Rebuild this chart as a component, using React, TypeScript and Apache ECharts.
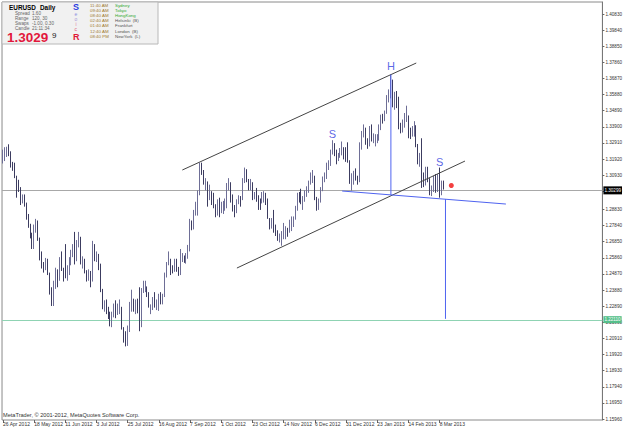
import React, { useEffect, useRef } from "react";
import * as echarts from "echarts";

// ---------- DATA ----------
const firstOpen = 1.319;
const closes = [
  1.3232, 1.3238, 1.324, 1.3236, 1.3158, 1.315, 1.3083, 1.3048, 1.301, 1.2945, 1.2955, 1.2915, 1.2832, 1.2782, 1.272, 1.2665,
  1.278, 1.278, 1.2705, 1.258, 1.253, 1.2515, 1.256, 1.249, 1.2375, 1.2365, 1.242, 1.25, 1.245, 1.2565, 1.2525, 1.2505,
  1.248, 1.25, 1.2565, 1.2625, 1.264, 1.258, 1.268, 1.27, 1.256, 1.2565, 1.25, 1.247, 1.249, 1.244, 1.2665, 1.2585,
  1.2605, 1.252, 1.2385, 1.229, 1.229, 1.225, 1.2245, 1.22, 1.2245, 1.2285, 1.2275, 1.2275, 1.2285, 1.2155, 1.2115, 1.2065,
  1.216, 1.2285, 1.2315, 1.227, 1.23, 1.2285, 1.217, 1.2385, 1.24, 1.2405, 1.237, 1.2285, 1.229, 1.2335, 1.229, 1.229,
  1.234, 1.2335, 1.2355, 1.249, 1.255, 1.256, 1.2515, 1.251, 1.2565, 1.2515, 1.2495, 1.2575, 1.2585, 1.2575, 1.2605, 1.2635,
  1.2815, 1.2765, 1.286, 1.2895, 1.2985, 1.313, 1.3115, 1.305, 1.305, 1.2975, 1.298, 1.2935, 1.2905, 1.2855, 1.2925, 1.286,
  1.288, 1.289, 1.29, 1.3035, 1.3035, 1.2945, 1.288, 1.287, 1.2925, 1.295, 1.2945, 1.3055, 1.312, 1.306, 1.3025, 1.305,
  1.296, 1.2975, 1.2955, 1.294, 1.2935, 1.296, 1.296, 1.2945, 1.283, 1.2795, 1.2815, 1.2775, 1.2745, 1.271, 1.271, 1.2715,
  1.274, 1.275, 1.274, 1.28, 1.2815, 1.2825, 1.2885, 1.2975, 1.297, 1.2945, 1.2945, 1.298, 1.2985, 1.305, 1.307, 1.3075,
  1.295, 1.2925, 1.2935, 1.3005, 1.307, 1.308, 1.316, 1.3165, 1.324, 1.3275, 1.324, 1.319, 1.3215, 1.3225, 1.3235, 1.3215,
  1.319, 1.3185, 1.305, 1.3065, 1.3115, 1.3075, 1.3065, 1.3275, 1.3345, 1.3375, 1.3305, 1.3285, 1.339, 1.3315, 1.3315, 1.332,
  1.332, 1.3385, 1.3455, 1.3445, 1.3485, 1.357, 1.358, 1.364, 1.3525, 1.359, 1.3525, 1.34, 1.3365, 1.3405, 1.345, 1.345,
  1.3365, 1.336, 1.337, 1.3395, 1.328, 1.319, 1.319, 1.306, 1.3055, 1.3125, 1.306, 1.302, 1.302, 1.308, 1.3, 1.3085,
  1.3, 1.3035, 1.303,
];
const highs = [
  1.325, 1.3265, 1.3268, 1.3283, 1.324, 1.3175, 1.317, 1.309, 1.3065, 1.302, 1.2975, 1.2975, 1.2925, 1.2855, 1.2795, 1.274,
  1.279, 1.2825, 1.2815, 1.271, 1.2625, 1.256, 1.2585, 1.258, 1.2495, 1.2405, 1.2445, 1.2525, 1.2515, 1.259, 1.2625, 1.2525,
  1.267, 1.254, 1.259, 1.2635, 1.267, 1.2745, 1.2695, 1.2745, 1.2715, 1.2595, 1.258, 1.251, 1.2515, 1.2505, 1.269, 1.267,
  1.2625, 1.261, 1.255, 1.2395, 1.2325, 1.233, 1.2285, 1.2255, 1.2255, 1.2305, 1.2325, 1.2305, 1.233, 1.2285, 1.216, 1.2135,
  1.217, 1.2315, 1.239, 1.2335, 1.233, 1.2335, 1.2405, 1.24, 1.2445, 1.2445, 1.241, 1.2375, 1.23, 1.2345, 1.2375, 1.233,
  1.2365, 1.2375, 1.2365, 1.2495, 1.256, 1.2625, 1.258, 1.254, 1.258, 1.258, 1.253, 1.264, 1.2615, 1.26, 1.2615, 1.2665,
  1.2825, 1.2815, 1.288, 1.293, 1.3, 1.317, 1.317, 1.3125, 1.3075, 1.3055, 1.3035, 1.2995, 1.2985, 1.2915, 1.2945, 1.2955,
  1.293, 1.2935, 1.295, 1.3045, 1.3075, 1.305, 1.2975, 1.291, 1.2945, 1.297, 1.2965, 1.3075, 1.314, 1.313, 1.307, 1.307,
  1.305, 1.299, 1.3015, 1.297, 1.295, 1.299, 1.2995, 1.2985, 1.295, 1.283, 1.283, 1.288, 1.279, 1.2755, 1.2735, 1.275,
  1.28, 1.278, 1.277, 1.282, 1.284, 1.284, 1.2905, 1.2985, 1.299, 1.301, 1.2965, 1.3, 1.3025, 1.306, 1.311, 1.3125,
  1.309, 1.296, 1.295, 1.302, 1.3085, 1.311, 1.317, 1.3185, 1.325, 1.3308, 1.329, 1.325, 1.323, 1.326, 1.33, 1.3265,
  1.3265, 1.3295, 1.3185, 1.3105, 1.312, 1.3135, 1.309, 1.3295, 1.3365, 1.3405, 1.3385, 1.332, 1.3395, 1.3405, 1.335, 1.3345,
  1.3345, 1.3405, 1.3465, 1.347, 1.349, 1.3585, 1.362, 1.3711, 1.368, 1.3605, 1.361, 1.3575, 1.3415, 1.3435, 1.3475, 1.352,
  1.346, 1.3385, 1.3395, 1.3425, 1.34, 1.3285, 1.323, 1.332, 1.311, 1.3145, 1.3145, 1.3075, 1.303, 1.309, 1.31, 1.31,
  1.314, 1.306, 1.306,
];
const lows = [
  1.3165, 1.318, 1.3205, 1.321, 1.314, 1.312, 1.3075, 1.2955, 1.299, 1.291, 1.292, 1.29, 1.282, 1.277, 1.2705, 1.264,
  1.264, 1.274, 1.269, 1.257, 1.252, 1.2495, 1.251, 1.248, 1.236, 1.229, 1.229, 1.2395, 1.2405, 1.2445, 1.2505, 1.244,
  1.246, 1.2445, 1.248, 1.254, 1.259, 1.2545, 1.2565, 1.265, 1.2545, 1.252, 1.249, 1.244, 1.2445, 1.2405, 1.244, 1.2565,
  1.256, 1.251, 1.2375, 1.227, 1.2255, 1.224, 1.221, 1.2165, 1.216, 1.222, 1.2215, 1.2235, 1.224, 1.2145, 1.2065, 1.2042,
  1.2045, 1.213, 1.2255, 1.2255, 1.224, 1.2245, 1.2135, 1.216, 1.237, 1.2375, 1.2345, 1.228, 1.224, 1.2265, 1.228, 1.2265,
  1.226, 1.23, 1.23, 1.2345, 1.2465, 1.254, 1.248, 1.249, 1.25, 1.25, 1.2475, 1.248, 1.256, 1.2555, 1.255, 1.258,
  1.2625, 1.2755, 1.276, 1.2845, 1.2845, 1.297, 1.3095, 1.3035, 1.3, 1.29, 1.294, 1.291, 1.289, 1.2835, 1.2845, 1.2835,
  1.286, 1.2855, 1.2875, 1.289, 1.3, 1.2925, 1.287, 1.2835, 1.286, 1.2915, 1.29, 1.294, 1.3045, 1.305, 1.3, 1.3,
  1.294, 1.2945, 1.293, 1.288, 1.288, 1.292, 1.2925, 1.291, 1.2825, 1.276, 1.2765, 1.274, 1.272, 1.269, 1.268, 1.266,
  1.27, 1.27, 1.2715, 1.274, 1.275, 1.2775, 1.282, 1.2875, 1.2925, 1.2915, 1.288, 1.293, 1.296, 1.2985, 1.3035, 1.3045,
  1.294, 1.2875, 1.288, 1.2925, 1.2995, 1.305, 1.307, 1.3125, 1.315, 1.322, 1.321, 1.316, 1.318, 1.32, 1.3215, 1.319,
  1.3175, 1.317, 1.304, 1.2998, 1.3035, 1.306, 1.3035, 1.305, 1.325, 1.3325, 1.328, 1.3255, 1.327, 1.33, 1.329, 1.327,
  1.329, 1.3305, 1.337, 1.341, 1.3425, 1.347, 1.354, 1.3565, 1.351, 1.3495, 1.3505, 1.3375, 1.335, 1.3355, 1.3385, 1.342,
  1.332, 1.3315, 1.333, 1.333, 1.3265, 1.316, 1.3145, 1.3015, 1.302, 1.303, 1.305, 1.297, 1.2965, 1.299, 1.2985, 1.299,
  1.2955, 1.297, 1.3005,
];
const priceTicks = [
  1.4083, 1.3984, 1.3885, 1.3786, 1.3687, 1.3588, 1.3489, 1.339, 1.3291, 1.3192, 1.3093, 1.2994, 1.2883,
  1.2784, 1.2685, 1.2586, 1.2487, 1.2388, 1.2289, 1.219, 1.2091, 1.1992, 1.1893, 1.1794, 1.1695, 1.1596,
];
const bidPrice = 1.30299;
const targetPrice = 1.2211;
const upperChannel = [[92, 1.3125], [212, 1.3782]];
const lowerChannel = [[120, 1.2523], [237, 1.318]];
const neckline = [[174, 1.2996], [258, 1.2916]];
const headDrop = [[199, 1.3711], [199, 1.2972]];
const targetDrop = [[227, 1.2946], [227, targetPrice]];
const patternLabels = [
  { name: "H", at: [199, 1.3764] },
  { name: "S", at: [169, 1.3346] },
  { name: "S", at: [224, 1.3174] },
];
const lastMark = [[230, bidPrice]];

const MONTHS = ["Jan", "Feb", "Mar", "Apr", "May", "Jun", "Jul", "Aug", "Sep", "Oct", "Nov", "Dec"];
const HOLIDAYS = ["2012-12-25", "2013-01-01"];
const SLOT_COUNT = 308;
const LABEL_EVERY = 16;

function buildDates(): string[] {
  const out: string[] = [];
  const d = new Date(Date.UTC(2012, 3, 26));
  while (out.length < SLOT_COUNT) {
    const wd = d.getUTCDay();
    const iso = d.toISOString().slice(0, 10);
    if (wd !== 0 && wd !== 6 && !HOLIDAYS.includes(iso)) {
      out.push(`${d.getUTCDate()} ${MONTHS[d.getUTCMonth()]} ${d.getUTCFullYear()}`);
    }
    d.setUTCDate(d.getUTCDate() + 1);
  }
  return out;
}

const FONT = "Liberation Sans";

export default function App() {
  const ref = useRef<HTMLDivElement>(null);
  useEffect(() => {
    document.body.style.margin = "0";
    const chart = echarts.init(ref.current!, undefined, { renderer: "svg" });
    const dates = buildDates();
    const ohlc = closes.map((c, i) => [i === 0 ? firstOpen : closes[i - 1], c, lows[i], highs[i]]);
    const lastIdx = closes.length - 1;
    const showLabel = (i: number) => i % LABEL_EVERY === 0 && i <= lastIdx;

    const lineSeries = (data: number[][], color: string) => ({
      type: "line",
      data,
      symbol: "none",
      silent: true,
      z: 4,
      itemStyle: { color },
      lineStyle: { color, width: 1 },
    });

    const smallText = (text: string, x: number, y: number, fill: string, size = 4.6, weight = "normal") => ({
      type: "text",
      z: 20,
      style: { text, x, y, fill, fontSize: size, fontFamily: FONT, fontWeight: weight, verticalAlign: "middle" },
    });

    const sessionTimes = ["11:40 AM", "09:40 AM", "08:40 AM", "02:40 AM", "01:40 AM", "12:40 AM", "08:40 PM"];
    const sessionNames = ["Sydney", "Tokyo", "HongKong", "Helsinki  (B)", "Frankfurt", "London  (B)", "NewYork  (L)"];
    const sessionGreen = [true, true, true, false, false, false, false];

    const graphic: any[] = [
      { type: "rect", z: 19, shape: { x: 2, y: 2, width: 156, height: 42 }, style: { fill: "#f1f1f1", stroke: "#b8b8b8", lineWidth: 1 } },
      smallText("EURUSD", 9, 7, "#000", 6.4, "bold"),
      smallText("Daily", 40, 7, "#000", 6.4, "bold"),
      smallText("Spread", 15, 13.5, "#666"),
      smallText("1.60", 32, 13.5, "#666"),
      smallText("Range", 15, 18.5, "#666"),
      smallText("120, 30", 32, 18.5, "#666"),
      smallText("Swaps", 15, 23.5, "#666"),
      smallText("-1.00, 0.30", 32, 23.5, "#666"),
      smallText("Candle", 15, 28.5, "#666"),
      smallText("21:11:34", 32, 28.5, "#666"),
      smallText("1.3029", 7, 37.5, "#e2183c", 13.5, "bold"),
      smallText("9", 52, 35, "#222", 8),
      smallText("S", 73, 7, "#2a3ce0", 9, "bold"),
      smallText("e", 74.5, 14, "#8c90e0", 5),
      smallText("o", 74.5, 19, "#a89ad6", 5),
      smallText("i", 75.5, 24, "#e07aa0", 5),
      smallText("c", 74.5, 29, "#e05a7a", 5),
      smallText("R", 73, 36.5, "#e01838", 9, "bold"),
      smallText("MetaTrader, \u00a9 2001-2012, MetaQuotes Software Corp.", 3, 415, "#333", 5.6),
    ];
    sessionTimes.forEach((t, k) => {
      const y = 5.5 + k * 5.1;
      graphic.push(smallText(t, 90, y, "#a07a30", 4.4));
      graphic.push(smallText(sessionNames[k], 115, y, sessionGreen[k] ? "#2fa82f" : "#555", 4.4));
    });

    chart.setOption({
      animation: false,
      backgroundColor: "#fff",
      textStyle: { fontFamily: FONT },
      grid: { left: 1, right: 20, top: 2, bottom: 9, show: true, borderColor: "#8a8a8a", borderWidth: 1 },
      xAxis: {
        type: "category",
        data: dates,
        boundaryGap: true,
        axisLine: { show: false },
        axisTick: { show: true, interval: (i: number) => showLabel(i), alignWithLabel: true, length: 3, lineStyle: { color: "#666" } },
        axisLabel: { interval: (i: number) => showLabel(i), align: "left", fontSize: 5, color: "#333", margin: 1.5, fontFamily: FONT },
        splitLine: { show: false },
      },
      yAxis: {
        type: "value",
        position: "right",
        min: 1.15899,
        max: 1.41567,
        axisLine: { show: true, lineStyle: { color: "#777" } },
        axisTick: { show: true, customValues: priceTicks, length: 2, lineStyle: { color: "#666" } },
        axisLabel: { customValues: priceTicks, fontSize: 4.6, color: "#333", margin: 3, formatter: (v: number) => v.toFixed(5), fontFamily: FONT },
        splitLine: { show: false },
      },
      graphic,
      series: [
        {
          type: "candlestick",
          data: ohlc,
          barWidth: 1,
          z: 3,
          itemStyle: { color: "#6e6e96", color0: "#3c3c60", borderColor: "#6e6e96", borderColor0: "#3c3c60", borderWidth: 1 },
          markLine: {
            silent: true,
            symbol: ["none", "none"],
            z: 2,
            data: [
              {
                yAxis: bidPrice,
                lineStyle: { color: "#a8a8a8", type: "solid", width: 1 },
                label: { show: true, position: "end", distance: 1, formatter: bidPrice.toFixed(5), backgroundColor: "#000", color: "#fff", fontSize: 4.6, padding: [2, 1, 1, 1], fontFamily: FONT },
              },
              {
                yAxis: targetPrice,
                lineStyle: { color: "#8fd3b3", type: "solid", width: 1 },
                label: { show: true, position: "end", distance: 1, formatter: targetPrice.toFixed(5), backgroundColor: "#55bf8a", color: "#fff", fontSize: 4.6, padding: [1, 1, 1, 1], fontFamily: FONT, offset: [0, -1] },
              },
            ],
          },
        },
        lineSeries(upperChannel, "#444"),
        lineSeries(lowerChannel, "#444"),
        lineSeries(neckline, "#4f63f0"),
        lineSeries(headDrop, "#4f63f0"),
        lineSeries(targetDrop, "#4f63f0"),
        {
          type: "scatter",
          data: lastMark,
          symbolSize: 5,
          z: 6,
          itemStyle: { color: "#f01010" },
          silent: true,
        },
        {
          type: "scatter",
          data: patternLabels.map((p) => ({ value: p.at, label: { formatter: p.name } })),
          symbolSize: 1,
          z: 6,
          silent: true,
          itemStyle: { color: "rgba(0,0,0,0)" },
          label: { show: true, position: "inside", color: "#3040e0", fontSize: 11, fontFamily: FONT },
        },
      ],
    });
    return () => chart.dispose();
  }, []);
  return <div ref={ref} style={{ width: 625, height: 429 }} />;
}
